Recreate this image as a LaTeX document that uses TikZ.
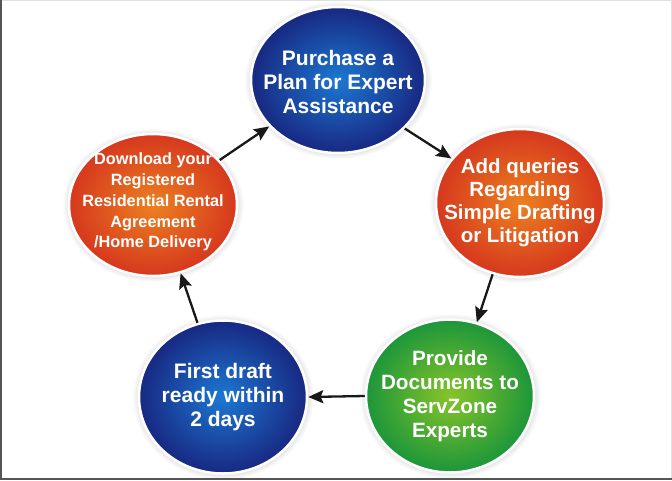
\documentclass[tikz,border=0pt]{standalone}
\usepackage{fontspec}
\setmainfont{Liberation Sans}
\usetikzlibrary{shapes.geometric,arrows.meta,shadows}
\definecolor{blueIn}{RGB}{28,120,210}
\definecolor{blueOut}{RGB}{24,40,130}
\definecolor{orIn}{RGB}{236,128,32}
\definecolor{orOut}{RGB}{214,56,30}
\definecolor{grIn}{RGB}{135,196,42}
\definecolor{grOut}{RGB}{28,150,58}
\definecolor{arrowcol}{RGB}{25,25,25}
\definecolor{darkframe}{RGB}{85,85,85}
\definecolor{lightframe}{RGB}{225,225,225}
\begin{document}
\begin{tikzpicture}[x=1pt,y=-1pt,
  bubble/.style={ellipse, draw=white, line width=2.5pt, inner sep=0pt,
    circular drop shadow={shadow xshift=0pt, shadow yshift=0pt, shadow scale=1.08, opacity=0.4}},
  bluebub/.style={bubble, inner color=blueIn, outer color=blueOut},
  orbub/.style={bubble, inner color=orIn, outer color=orOut},
  grbub/.style={bubble, inner color=grIn, outer color=grOut},
  bigtxt/.style={text=white, align=center, inner sep=0pt, font=\fontsize{21}{24}\selectfont\bfseries},
  smalltxt/.style={text=white, align=center, inner sep=0pt, font=\fontsize{16.3}{20.8}\selectfont\bfseries},
  conn/.style={draw=arrowcol, line width=2.3pt, -{Stealth[length=15pt,width=13pt,inset=2.5pt]}}]
\useasboundingbox (0,0) rectangle (672,480);
\fill[white] (0,0) rectangle (672,480);
% frame
\draw[lightframe, line width=1pt] (0,0.5) -- (672,0.5);
\draw[lightframe, line width=1pt] (671.5,0) -- (671.5,480);
\draw[darkframe, line width=2pt] (1,0) -- (1,480);
\draw[darkframe, line width=2pt] (0,479) -- (672,479);
% bubbles
\node[bluebub, minimum width=174pt, minimum height=146pt] (c1) at (338,80) {};
\node[orbub, minimum width=168pt, minimum height=148pt] (c2) at (520,203) {};
\node[grbub, minimum width=168pt, minimum height=153pt] (c3) at (450,396) {};
\node[bluebub, minimum width=168pt, minimum height=153pt] (c4) at (223,397) {};
\node[orbub, minimum width=168pt, minimum height=142pt] (c5) at (153,205) {};
% texts
\node[bigtxt, yshift=-2pt] (t1) at (c1) {Purchase a\\Plan for Expert\\Assistance};
\node[bigtxt, font=\fontsize{20.5}{23}\selectfont\bfseries] (t2) at (c2) {Add queries\\Regarding\\Simple Drafting\\or Litigation};
\node[bigtxt, font=\fontsize{20.7}{24}\selectfont\bfseries] (t3) at (c3) {Provide\\Documents to\\ServZone\\Experts};
\node[bigtxt] (t4) at (c4) {First draft\\ready within\\2 days};
\node[smalltxt, yshift=3pt] (t5) at (c5) {Download your\\Registered\\Residential Rental\\Agreement\\/Home Delivery};
% connectors
\draw[conn] (c5.34) -- (c1.214);
\draw[conn] (c1.324) -- (c2.147);
\draw[conn] (c2.249) -- (c3.70);
\draw[conn] (c3.180) -- (c4.0);
\draw[conn] (c4.109) -- (c5.292);
\end{tikzpicture}
\end{document}
